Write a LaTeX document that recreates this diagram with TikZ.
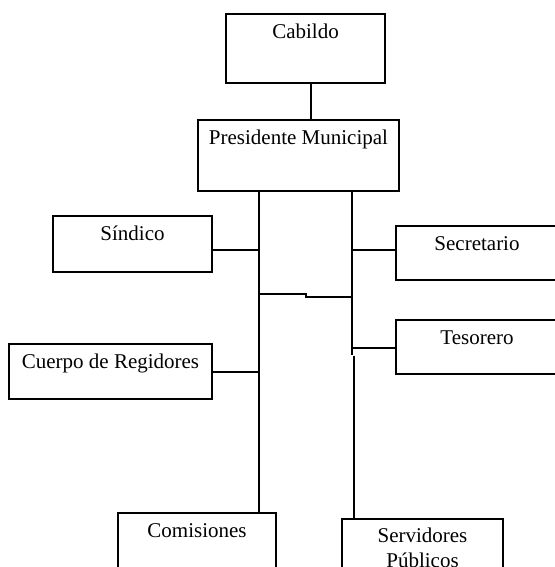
\documentclass[tikz,border=0pt]{standalone}
\usepackage{fontspec}
\setmainfont{Liberation Serif}

\begin{document}
\begin{tikzpicture}[x=1pt,y=-1pt,
  box/.style = {draw, line width=1.2pt, inner sep=0pt},
  lbl/.style = {anchor=north, yshift=-11pt, inner sep=0pt, text height=14pt, text depth=4pt, font=\fontsize{21}{25}\selectfont},
  lbltwo/.style = {anchor=north, yshift=-9pt, inner sep=0pt, align=center, font=\fontsize{21}{25}\selectfont},
  link/.style = {line width=1.2pt}]
  \useasboundingbox (0,0) rectangle (554,567);
  % boxes
  \node[box, minimum width=159pt, minimum height=69pt, label={[lbl]north:Cabildo}] (cab) at (305.5,48.5) {};
  \node[box, minimum width=201pt, minimum height=71pt, label={[lbl]north:Presidente Municipal}] (pres) at (298.5,155.5) {};
  \node[box, minimum width=159pt, minimum height=56pt, label={[lbl]north:Síndico}] (sin) at (132.5,244) {};
  \node[box, minimum width=203pt, minimum height=55pt, label={[lbl]north:Cuerpo de Regidores}] (cue) at (110.5,371.5) {};
  \node[box, minimum width=162pt, minimum height=54pt, label={[lbl]north:Secretario}] (sec) at (477,253) {};
  \node[box, minimum width=162pt, minimum height=54pt, label={[lbl]north:Tesorero}] (tes) at (477,347) {};
  \node[box, minimum width=158pt, minimum height=60pt, label={[lbl]north:Comisiones}] (com) at (197,543) {};
  \node[box, minimum width=161pt, minimum height=60pt, label={[lbltwo]north:Servidores\\Públicos}] (ser) at (422.5,549) {};
  % junctions
  \coordinate (cx) at (311,0);
  \coordinate (lx) at (259,0);
  \coordinate (rx) at (352,0);
  \coordinate (rx2) at (354,0);
  \coordinate (jsin) at (259,250);
  \coordinate (jcue) at (259,372);
  \coordinate (jsec) at (352,250);
  \coordinate (jtes) at (352,348);
  \coordinate (jmidl) at (259,294);
  \coordinate (jmidr) at (352,297);
  \coordinate (rbrk) at (352,355);
  % connectors
  \draw[link] (cab.south -| cx) -- (pres.north -| cx);
  \draw[link] (pres.south -| lx) -- (com.north -| lx);
  \draw[link] (pres.south -| rx) -- (rbrk);
  \draw[link] (rbrk -| rx2) ++(0,1) -- (ser.north -| rx2);
  \draw[link] (sin.east |- jsin) -- (jsin);
  \draw[link] (cue.east |- jcue) -- (jcue);
  \draw[link] (sec.west |- jsec) -- (jsec);
  \draw[link] (tes.west |- jtes) -- (jtes);
  \draw[link] (jmidl) -- ++(47,0) |- (jmidr);
\end{tikzpicture}
\end{document}
